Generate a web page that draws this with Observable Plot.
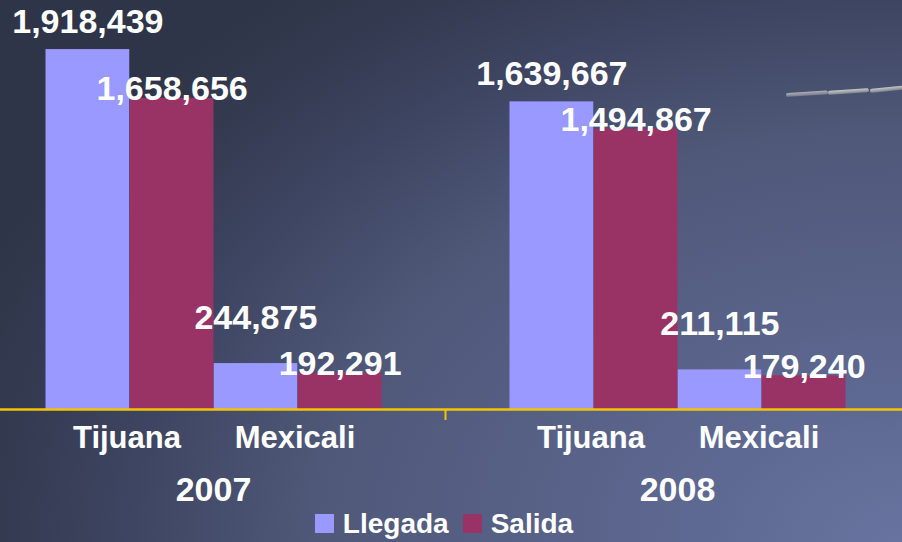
<!DOCTYPE html>
<html>
<head>
<meta charset="utf-8">
<script src="https://cdn.jsdelivr.net/npm/d3@7"></script>
<script src="https://cdn.jsdelivr.net/npm/@observablehq/plot@0.6"></script>
<style>
  html, body { margin: 0; padding: 0; }
  body {
    width: 902px; height: 542px; overflow: hidden; position: relative;
    background: radial-gradient(1000px 700px at 100% 100%, #68739f 0%, #606b96 15%, #4f5878 59%, #3e4562 77%, #343a50 90%, #2f3548 100%);
    font-family: "Liberation Sans", Arial, sans-serif;
  }
  #legend {
    height: 37px; display: flex; justify-content: center; align-items: baseline;
    padding-right: 14px; line-height: 37px; font-size: 28px; font-weight: bold; color: #fff;
  }
  #legend .sw { display: inline-block; width: 19px; height: 19px; margin-right: 9px; }
  #legend .item + .item { margin-left: 14px; }
  .streak { position: absolute; height: 4px; border-radius: 2px; transform-origin: left center;
    background: linear-gradient(to bottom, rgba(220,220,220,0.85), rgba(150,150,150,0.7)); }
</style>
</head>
<body>
<div class="streak" style="left:786px; top:93px; width:42px; transform: rotate(-3.5deg); opacity:0.8"></div>
<div class="streak" style="left:828px; top:91px; width:41px; transform: rotate(-4deg);"></div>
<div class="streak" style="left:870px; top:89px; width:34px; transform: rotate(-6deg);"></div>
<div id="chart"></div>
<div id="legend"></div>
<script>
// ---- data ----
const years = ["2007", "2008"];
const cities = ["Tijuana", "Mexicali"];
const seriesNames = ["Llegada", "Salida"];
const llegada2007 = [1918439, 244875];
const salida2007 = [1658656, 192291];
const llegada2008 = [1639667, 211115];
const salida2008 = [1494867, 179240];
const seriesColors = ["#9999FF", "#993366"];

const values = {
  "2007": { Llegada: llegada2007, Salida: salida2007 },
  "2008": { Llegada: llegada2008, Salida: salida2008 }
};
const rows = [];
for (const year of years) for (const s of seriesNames) cities.forEach((city, i) => {
  rows.push({ year, series: s, city, value: values[year][s][i] });
});

// ---- layout ----
const W = 902, H = 505;
const mL = -19.5, mR = -6.5;
const facetW = (W - mL - mR) / years.length;
const padOuter = 0.3769;
const cityBand = facetW / (cities.length + 2 * padOuter);
const half = cityBand / 2;
const fmt = d3.format(",");

const llegada = rows.filter(d => d.series === "Llegada");
const salida = rows.filter(d => d.series === "Salida");

const textStyle = { fill: "white", fontWeight: "bold", lineAnchor: "bottom", stroke: null };

const chart = Plot.plot({
  width: W, height: H,
  marginTop: 0, marginBottom: 96, marginLeft: mL, marginRight: mR,
  style: { background: "transparent", color: "white", fontFamily: "'Liberation Sans', Arial, sans-serif", overflow: "visible" },
  fx: { domain: years, padding: 0, axis: null },
  x: { domain: cities, paddingInner: 0, paddingOuter: padOuter, axis: null },
  y: { domain: [0, 2180000], axis: null },
  marks: [
    Plot.barY(llegada, { fx: "year", x: "city", y: "value", fill: seriesColors[0], insetRight: half }),
    Plot.barY(salida, { fx: "year", x: "city", y: "value", fill: seriesColors[1], insetLeft: half }),
    Plot.ruleY([0], { stroke: "#f5c400", strokeWidth: 2.5 }),
    Plot.axisFx({ anchor: "bottom", tickSize: 11, tickFormat: () => "", stroke: "#f5c400", strokeWidth: 2, dx: -facetW / 2, label: null }),
    // value labels
    Plot.text(llegada.filter(d => d.city === "Tijuana"), { ...textStyle, fx: "year", x: "city", y: "value", text: d => fmt(d.value), dx: -half / 2, dy: -17, fontSize: 34 }),
    Plot.text(llegada.filter(d => d.city === "Mexicali"), { ...textStyle, fx: "year", x: "city", y: "value", text: d => fmt(d.value), dx: -half / 2, dy: -35, fontSize: 34 }),
    Plot.text(salida, { ...textStyle, fx: "year", x: "city", y: "value", text: d => fmt(d.value), dx: half / 2, dy: 2, fontSize: 34 }),
    // city labels
    Plot.text(cities, { ...textStyle, x: d => d, text: d => d, frameAnchor: "bottom", dx: -3, dy: 38, fontSize: 31 }),
    // year labels
    Plot.text(years, { ...textStyle, fx: d => d, text: d => d, frameAnchor: "bottom", dy: 91, fontSize: 34 })
  ]
});
document.getElementById("chart").appendChild(chart);

// legend
const legend = document.getElementById("legend");
seriesNames.forEach((s, i) => {
  const item = document.createElement("span");
  item.className = "item";
  item.innerHTML = `<span class="sw" style="background:${seriesColors[i]}"></span>${s}`;
  legend.appendChild(item);
});
</script>
</body>
</html>
